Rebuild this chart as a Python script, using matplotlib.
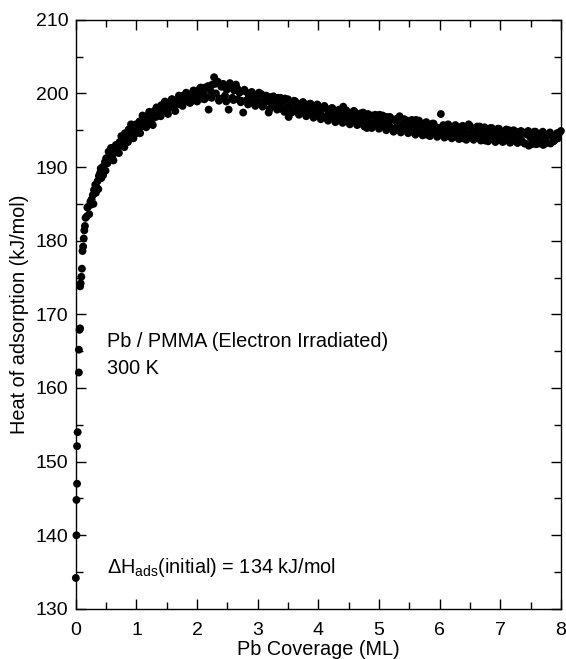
import matplotlib
matplotlib.use("Agg")
import matplotlib.pyplot as plt
from matplotlib.ticker import MultipleLocator

plt.rcParams.update({
    "font.family": "sans-serif",
    "font.sans-serif": ["Liberation Sans", "DejaVu Sans"],
    "mathtext.fontset": "custom",
    "mathtext.rm": "Liberation Sans",
    "mathtext.it": "Liberation Sans:italic",
})

# Pb coverage (ML) and heat of adsorption (kJ/mol)
coverage = [
    0.00, 0.01, 0.01, 0.02, 0.02, 0.03, 0.05, 0.05, 0.06, 0.07, 0.07, 0.08, 0.09, 0.10,
    0.11, 0.12, 0.13, 0.14, 0.16, 0.18, 0.20, 0.22, 0.24, 0.26, 0.28, 0.30, 0.32, 0.34,
    0.36, 0.38, 0.40, 0.42, 0.44, 0.46, 0.48, 0.50, 0.52, 0.54, 0.57, 0.60, 0.63, 0.66,
    0.69, 0.72, 0.75, 0.78, 0.81, 0.84, 0.87, 0.90, 0.93, 0.96, 0.99, 1.02, 1.05, 1.08,
    1.11, 1.14, 1.17, 1.20, 1.23, 1.26, 1.29, 1.32, 1.35, 1.38, 1.41, 1.44, 1.47, 1.50,
    1.53, 1.56, 1.59, 1.62, 1.65, 1.68, 1.71, 1.74, 1.77, 1.80, 1.83, 1.86, 1.89, 1.92,
    1.95, 1.98, 2.01, 2.04, 2.07, 2.10, 2.13, 2.16, 2.19, 2.22, 2.25, 2.28, 2.31, 2.34,
    2.37, 2.40, 2.43, 2.46, 2.49, 2.52, 2.55, 2.58, 2.61, 2.64, 2.67, 2.70, 2.73, 2.76,
    2.79, 2.82, 2.85, 2.88, 2.91, 2.94, 2.97, 3.00, 3.03, 3.06, 3.09, 3.12, 3.15, 3.18,
    3.21, 3.24, 3.27, 3.30, 3.33, 3.36, 3.39, 3.42, 3.45, 3.48, 3.51, 3.54, 3.57, 3.60,
    3.63, 3.66, 3.69, 3.72, 3.75, 3.78, 3.81, 3.84, 3.87, 3.90, 3.93, 3.96, 3.99, 4.02,
    4.05, 4.08, 4.11, 4.14, 4.17, 4.20, 4.23, 4.26, 4.29, 4.32, 4.35, 4.38, 4.41, 4.44,
    4.47, 4.50, 4.53, 4.56, 4.59, 4.62, 4.65, 4.68, 4.71, 4.74, 4.77, 4.80, 4.83, 4.86,
    4.89, 4.92, 4.95, 4.98, 5.01, 5.04, 5.07, 5.10, 5.13, 5.16, 5.19, 5.22, 5.25, 5.28,
    5.31, 5.34, 5.37, 5.40, 5.43, 5.46, 5.49, 5.52, 5.55, 5.58, 5.61, 5.64, 5.67, 5.70,
    5.73, 5.76, 5.79, 5.82, 5.85, 5.88, 5.91, 5.94, 5.97, 6.00, 6.03, 6.06, 6.09, 6.12,
    6.15, 6.18, 6.21, 6.24, 6.27, 6.30, 6.33, 6.36, 6.39, 6.42, 6.45, 6.48, 6.51, 6.54,
    6.57, 6.60, 6.63, 6.66, 6.69, 6.72, 6.75, 6.78, 6.81, 6.84, 6.87, 6.90, 6.93, 6.96,
    6.99, 7.02, 7.05, 7.08, 7.11, 7.14, 7.17, 7.20, 7.23, 7.26, 7.29, 7.32, 7.35, 7.38,
    7.41, 7.44, 7.47, 7.50, 7.53, 7.56, 7.59, 7.62, 7.65, 7.68, 7.71, 7.74, 7.77, 7.80,
    7.83, 7.86, 7.89, 7.92, 7.95, 7.98,
    # second pass, the upper and lower edges of the band
    0.15, 0.19, 0.25, 0.29, 0.33, 0.37, 0.41, 0.45, 0.49, 0.53, 0.58, 0.62, 0.67, 0.71,
    0.76, 0.80, 0.86, 0.91, 0.95, 1.00, 1.06, 1.10, 1.16, 1.21, 1.27, 1.33, 1.40, 1.46,
    1.52, 1.58, 1.64, 1.70, 1.76, 1.82, 1.88, 1.94, 2.00, 2.06, 2.12, 2.18, 2.24, 2.30,
    2.36, 2.42, 2.48, 2.54, 2.60, 2.66, 2.72, 2.78, 2.84, 2.90, 2.96, 3.02, 3.08, 3.14,
    3.20, 3.26, 3.32, 3.38, 3.44, 3.50, 3.56, 3.62, 3.68, 3.74, 3.80, 3.86, 3.92, 3.98,
    4.04, 4.10, 4.16, 4.22, 4.28, 4.34, 4.40, 4.46, 4.52, 4.58, 4.64, 4.70, 4.76, 4.82,
    4.88, 4.94, 5.00, 5.06, 5.12, 5.18, 5.24, 5.30, 5.36, 5.42, 5.48, 5.54, 5.60, 5.66,
    5.72, 5.78, 5.84, 5.90, 5.96, 6.02, 6.08, 6.14, 6.20, 6.26, 6.32, 6.38, 6.44, 6.50,
    6.56, 6.62, 6.68, 6.74, 6.80, 6.86, 6.92, 6.98, 7.04, 7.10, 7.16, 7.22, 7.28, 7.34,
    7.40, 7.46, 7.52, 7.58, 7.64, 7.70, 7.76, 7.82, 7.88, 7.94, 8.00,
]
heat = [
    134.2, 140.0, 144.8, 147.0, 152.1, 154.0, 162.1, 165.2, 167.9, 168.1, 173.8, 174.2, 175.1, 176.2,
    178.6, 179.2, 180.3, 181.4, 183.1, 183.3, 184.6, 183.6, 185.3, 185.6, 186.2, 186.9, 187.6, 187.3,
    188.1, 188.8, 189.2, 188.5, 190.0, 189.6, 190.7, 191.2, 190.5, 192.1, 191.8, 191.4, 192.3, 193.0,
    192.6, 193.4, 194.2, 193.1, 194.6, 194.0, 195.1, 194.5, 195.4, 194.8, 195.8, 195.2, 196.2, 195.5,
    196.6, 195.9, 196.9, 196.2, 197.3, 196.5, 197.6, 196.8, 198.0, 197.2, 198.4, 197.6, 198.9, 197.9,
    198.6, 198.1, 199.2, 198.3, 199.0, 198.5, 199.4, 198.6, 199.7, 198.9, 199.3, 199.9, 198.8, 199.6,
    200.3, 199.1, 199.8, 200.6, 199.3, 200.1, 200.8, 199.5, 197.8, 200.4, 201.2, 202.2, 200.0, 201.6,
    199.3, 200.9, 201.3, 199.7, 200.5, 197.8, 201.1, 199.4, 200.4, 201.2, 199.2, 200.1, 199.0, 197.4,
    200.3, 199.1, 199.8, 198.7, 200.0, 199.2, 198.6, 199.6, 198.8, 199.9, 198.4, 199.3, 198.9, 197.4,
    199.5, 198.5, 199.1, 198.2, 199.4, 198.6, 197.9, 198.9, 199.3, 198.1, 196.8, 198.7, 197.8, 199.0,
    198.0, 197.5, 198.5, 197.7, 198.8, 197.3, 198.2, 197.6, 198.6, 197.1, 198.0, 197.4, 198.4, 197.0,
    197.8, 196.9, 198.1, 196.6, 197.5, 197.0, 198.0, 196.7, 197.4, 196.3, 197.2, 196.8, 198.2, 196.5,
    197.3, 196.1, 197.0, 196.6, 197.6, 196.2, 197.1, 195.9, 196.8, 197.4, 196.3, 195.3, 196.9, 196.0,
    197.0, 195.8, 196.6, 196.2, 197.1, 195.7, 196.4, 195.5, 196.8, 196.0, 195.4, 196.5, 195.2, 196.2,
    195.8, 196.9, 195.3, 196.0, 195.1, 196.3, 195.6, 194.8, 196.0, 195.4, 196.4, 195.0, 195.7, 194.6,
    195.9, 195.2, 194.4, 195.6, 194.9, 195.9, 194.7, 195.4, 194.3, 195.3, 194.8, 195.7, 194.5, 195.1,
    194.2, 195.5, 194.8, 194.1, 195.0, 194.4, 195.4, 194.6, 193.9, 195.2, 194.5, 195.8, 194.2, 194.9,
    193.9, 195.0, 194.4, 195.5, 194.0, 194.7, 193.6, 195.1, 194.3, 195.3, 193.8, 194.6, 194.0, 195.2,
    193.7, 194.5, 193.5, 194.9, 194.1, 195.0, 193.4, 194.4, 193.8, 194.8, 193.3, 194.2, 193.6, 194.7,
    193.2, 194.4, 192.9, 194.0, 193.5, 194.8, 193.1, 194.1, 193.4, 194.6, 193.0, 193.9, 193.3, 194.5,
    193.2, 194.1, 193.6, 194.3, 193.9, 194.7,
    182.0, 184.5, 184.9, 185.0, 186.5, 187.0, 189.8, 188.9, 189.5, 191.0, 192.6, 190.9, 192.0, 191.9,
    193.6, 192.7, 193.4, 195.8, 193.9, 194.6, 194.6, 197.0, 195.4, 197.5, 195.7, 198.1, 196.9, 198.7,
    197.2, 199.2, 197.6, 199.7, 198.3, 200.1, 198.7, 200.4, 198.9, 200.8, 199.2, 201.0, 199.4, 201.3,
    199.0, 201.0, 198.9, 201.4, 199.1, 200.7, 198.8, 200.5, 198.5, 200.2, 198.3, 200.1, 198.2, 199.7,
    197.9, 199.6, 197.8, 199.4, 197.5, 199.2, 197.4, 198.9, 197.1, 198.8, 196.9, 198.6, 196.7, 198.5,
    196.5, 198.3, 196.3, 198.0, 196.1, 197.8, 196.0, 197.7, 195.8, 197.6, 195.7, 197.3, 195.5, 197.2,
    195.3, 197.1, 195.2, 197.0, 195.0, 196.8, 194.8, 196.6, 194.7, 196.5, 194.6, 196.4, 194.4, 196.3,
    194.3, 196.1, 194.2, 195.9, 194.1, 197.2, 194.0, 195.8, 193.9, 195.7, 193.8, 195.6, 193.7, 195.6,
    193.7, 195.5, 193.6, 195.4, 193.5, 195.3, 193.4, 195.2, 193.4, 195.1, 193.3, 195.0, 193.3, 194.9,
    193.2, 194.9, 193.1, 194.8, 193.2, 194.8, 193.3, 194.7, 193.5, 194.6, 194.9,
]

fig = plt.figure(figsize=(5.66, 6.59), dpi=100)
ax = fig.add_axes([0.134, 0.076, 0.857, 0.894])

ax.scatter(coverage, heat, s=32, color="black", edgecolors="none", zorder=3, clip_on=False)

ax.set_xlim(0, 8)
ax.set_ylim(130, 210)
ax.xaxis.set_major_locator(MultipleLocator(1))
ax.xaxis.set_minor_locator(MultipleLocator(0.5))
ax.yaxis.set_major_locator(MultipleLocator(10))
ax.yaxis.set_minor_locator(MultipleLocator(5))
ax.tick_params(which="both", direction="in", top=True, right=True, width=1.0,
               labelsize=14, colors="black")
ax.tick_params(axis="x", which="both", pad=9.5)
ax.tick_params(axis="y", which="both", pad=5.5)
ax.tick_params(which="major", length=7.5)
ax.tick_params(which="minor", length=4.7)
for sp in ax.spines.values():
    sp.set_linewidth(1.0)

ax.set_xlabel("Pb Coverage (ML)", fontsize=14.3, labelpad=1)
ax.set_ylabel("Heat of adsorption (kJ/mol)", fontsize=14.3, labelpad=5)

ax.text(0.51, 166.3, "Pb / PMMA (Electron Irradiated)", fontsize=14.3, va="center", ha="left")
ax.text(0.51, 162.7, "300 K", fontsize=14.3, va="center", ha="left")
ax.text(0.51, 135.6, r"$\Delta$H$_{\mathrm{ads}}$(initial) = 134 kJ/mol", fontsize=14.3,
        va="center", ha="left")

fig.savefig("out.png", dpi=100)
